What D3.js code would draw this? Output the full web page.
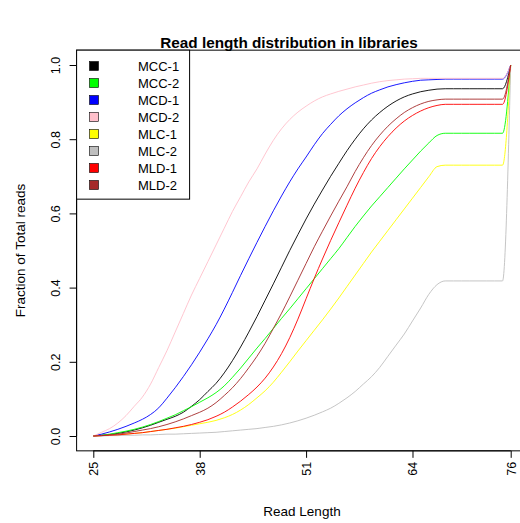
<!DOCTYPE html>
<html><head><meta charset="utf-8">
<script src="https://cdn.jsdelivr.net/npm/d3@7"></script>
<style>body{margin:0;background:#fff}svg{display:block;font-family:"Liberation Sans",Arial,Helvetica,sans-serif}</style>
</head><body><svg id="c" width="520" height="523"></svg>
<script>
const readLengths = [25,26,27,28,29,30,31,32,33,34,35,36,37,38,39,40,41,42,43,44,45,46,47,48,49,50,51,52,53,54,55,56,57,58,59,60,61,62,63,64,65,66,67,68,69,70,71,72,73,74,75,76];
const seriesNames = ["MCC-1","MCC-2","MCD-1","MCD-2","MLC-1","MLC-2","MLD-1","MLD-2"];
const seriesColors = ["#000000","#00FF00","#0000FF","#FFC0CB","#FFFF00","#BEBEBE","#FF0000","#A52A2A"];
const MCC1 = [0,0.002,0.004,0.007,0.011,0.016,0.022,0.029,0.037,0.045, 0.053,0.064,0.08,0.098,0.12,0.142,0.17,0.203,0.24,0.28, 0.322,0.366,0.41,0.455,0.50,0.543,0.585,0.625,0.663,0.70, 0.735,0.769,0.80,0.828,0.852,0.872,0.889,0.903,0.914,0.922, 0.928,0.932,0.935,0.936,0.936,0.936,0.936,0.936,0.936,0.936, 0.936,1];
const MCC2 = [0,0.002,0.005,0.009,0.013,0.018,0.024,0.031,0.039,0.048, 0.057,0.068,0.079,0.091,0.103,0.117,0.135,0.158,0.183,0.21, 0.237,0.263,0.29,0.317,0.343,0.37,0.397,0.424,0.451,0.478, 0.505,0.535,0.565,0.593,0.62,0.645,0.67,0.695,0.72,0.744, 0.768,0.79,0.81,0.816,0.816,0.816,0.816,0.816,0.816,0.816, 0.816,1];
const MCD1 = [0,0.005,0.011,0.018,0.026,0.035,0.045,0.058,0.076,0.102, 0.13,0.16,0.192,0.226,0.262,0.30,0.342,0.387,0.433,0.478, 0.522,0.565,0.607,0.647,0.685,0.72,0.752,0.785,0.815,0.84, 0.863,0.882,0.898,0.912,0.924,0.933,0.941,0.947,0.952,0.956, 0.959,0.96,0.961,0.962,0.962,0.962,0.962,0.962,0.962,0.962, 0.962,1];
const MCD2 = [0,0.01,0.02,0.035,0.055,0.08,0.105,0.14,0.185,0.23, 0.28,0.33,0.38,0.425,0.47,0.515,0.56,0.605,0.645,0.685, 0.72,0.76,0.797,0.828,0.853,0.873,0.889,0.903,0.914,0.922, 0.929,0.935,0.941,0.946,0.951,0.955,0.958,0.96,0.962,0.963, 0.964,0.964,0.964,0.964,0.964,0.964,0.964,0.964,0.964,0.964, 0.964,1];
const MLC1 = [0,0.001,0.002,0.003,0.005,0.007,0.009,0.012,0.015,0.018, 0.021,0.025,0.029,0.033,0.037,0.042,0.049,0.058,0.07,0.085, 0.103,0.122,0.145,0.172,0.2,0.229,0.257,0.285,0.313,0.342, 0.372,0.403,0.434,0.465,0.496,0.525,0.554,0.583,0.612,0.641, 0.67,0.699,0.726,0.73,0.73,0.73,0.73,0.73,0.73,0.73, 0.73,1];
const MLC2 = [0,0,0.001,0.001,0.002,0.002,0.003,0.003,0.004,0.005, 0.005,0.006,0.007,0.008,0.009,0.01,0.012,0.014,0.016,0.018, 0.02,0.023,0.026,0.03,0.035,0.041,0.048,0.056,0.065,0.075, 0.088,0.103,0.12,0.14,0.16,0.185,0.215,0.245,0.275,0.31, 0.345,0.382,0.408,0.418,0.418,0.418,0.418,0.418,0.418,0.418, 0.418,1];
const MLD1 = [0,0.001,0.002,0.003,0.005,0.007,0.009,0.012,0.015,0.018, 0.022,0.026,0.031,0.037,0.044,0.053,0.064,0.078,0.094,0.112, 0.132,0.156,0.186,0.222,0.265,0.315,0.37,0.425,0.477,0.527, 0.575,0.622,0.668,0.71,0.748,0.78,0.807,0.83,0.849,0.864, 0.876,0.885,0.891,0.894,0.894,0.894,0.894,0.894,0.894,0.894, 0.894,1];
const MLD2 = [0,0.001,0.003,0.005,0.008,0.012,0.016,0.02,0.025,0.031, 0.038,0.046,0.055,0.064,0.075,0.09,0.109,0.13,0.155,0.184, 0.215,0.25,0.29,0.331,0.375,0.42,0.465,0.51,0.552,0.593, 0.633,0.672,0.713,0.75,0.783,0.811,0.835,0.855,0.872,0.885, 0.895,0.902,0.906,0.908,0.908,0.908,0.908,0.908,0.908,0.908, 0.908,1];
const seriesValues = [MCC1,MCC2,MCD1,MCD2,MLC1,MLC2,MLD1,MLD2];
const xTicks = [25,38,51,64,76];
const yTicks = [0,0.2,0.4,0.6,0.8,1.0];
const title = "Read length distribution in libraries";
const xTitle = "Read Length";
const yTitle = "Fraction of Total reads";

const svg = d3.select("#c");
const x = d3.scaleLinear().domain([25,76]).range([93.3,510.7]);
const y = d3.scaleLinear().domain([0,1]).range([436,65]);
const xPad = (76-25)*0.04, yPad = 0.04;
const L = x(25-xPad), R = x(76+xPad), T = y(1+yPad), B = y(-yPad);

// series lines
const line = d3.line().x((d,i)=>x(readLengths[i])).y(d=>y(d)).curve(d3.curveMonotoneX);
seriesValues.forEach((vals,k)=>{
  svg.append("path").attr("d",line(vals)).attr("fill","none")
    .attr("stroke",seriesColors[k]).attr("stroke-width",0.9);
});

// box
svg.append("rect").attr("x",L).attr("y",T).attr("width",R-L).attr("height",B-T)
  .attr("fill","none").attr("stroke","#000").attr("stroke-width",1);

// x axis
const gx = svg.append("g").attr("transform",`translate(0,${B})`)
  .call(d3.axisBottom(x).tickValues(xTicks).tickSize(7).tickFormat(d3.format("d")));
gx.select(".domain").attr("d",`M${x(25)},0H${x(76)}`);
gx.selectAll("text").attr("font-size",12.5).attr("font-family","Liberation Sans, Arial, sans-serif")
  .attr("text-anchor","end").attr("transform","rotate(-90)")
  .attr("x",-11).attr("y",0).attr("dy","0.35em");

// y axis
const gy = svg.append("g").attr("transform",`translate(${L},0)`)
  .call(d3.axisLeft(y).tickValues(yTicks).tickSize(7).tickFormat(d3.format(".1f")));
gy.select(".domain").attr("d",`M0,${y(0)}V${y(1)}`);
gy.selectAll("text").attr("font-size",12.5).attr("font-family","Liberation Sans, Arial, sans-serif")
  .attr("text-anchor","middle").attr("transform","rotate(-90)")
  .attr("x",0).attr("y",-17).attr("dy","0");

// titles
svg.append("text").attr("x",289).attr("y",48).attr("text-anchor","middle")
  .attr("font-weight","bold").attr("font-size",15.3).text(title);
svg.append("text").attr("x",302).attr("y",516).attr("text-anchor","middle")
  .attr("font-size",13.5).text(xTitle);
svg.append("text").attr("transform",`translate(25,${(T+B)/2}) rotate(-90)`).attr("text-anchor","middle")
  .attr("font-size",13.5).text(yTitle);

// legend
const lg = svg.append("g");
lg.append("rect").attr("x",L).attr("y",T).attr("width",113).attr("height",149)
  .attr("fill","#fff").attr("stroke","#000").attr("stroke-width",1);
seriesNames.forEach((n,i)=>{
  const cy = 66 + i*17;
  lg.append("rect").attr("x",89.5).attr("y",cy-4.5).attr("width",9).attr("height",9)
    .attr("fill",seriesColors[i]).attr("stroke","#000").attr("stroke-width",0.6);
  lg.append("text").attr("x",138).attr("y",cy).attr("dy","0.36em").attr("font-size",13).text(n);
});
</script></body></html>
